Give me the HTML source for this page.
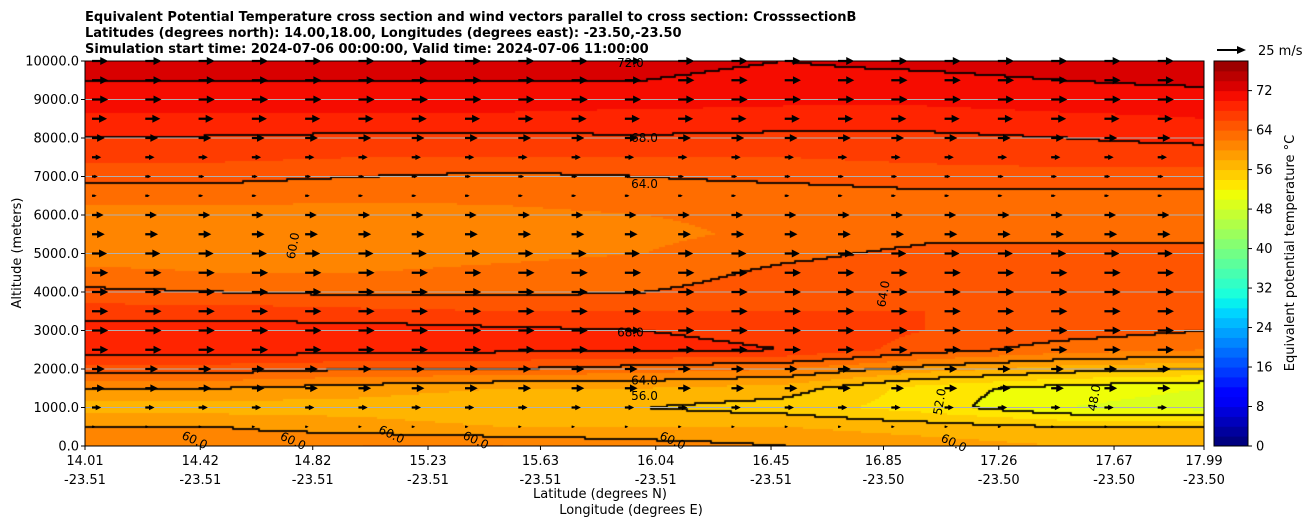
<!DOCTYPE html>
<html><head><meta charset="utf-8">
<style>
body{margin:0;background:#fff;width:1308px;height:526px;overflow:hidden;font-family:"DejaVu Sans","Liberation Sans",sans-serif;}
#wrap{position:relative;width:1308px;height:526px;}
canvas{position:absolute;left:85px;top:61px;}
svg{position:absolute;left:0;top:0;}
.t{font-size:13px;font-weight:bold;}
.tk{font-size:13px;}
.cl{font-size:12px;}
</style></head>
<body>
<div id="wrap">
<canvas id="field" width="1119" height="385"></canvas>
<svg id="svg" width="1308" height="526"></svg>
</div>
<script>
// ---- data ----
const lats = [14.0,14.5,15.0,15.5,16.0,16.5,17.0,17.5,18.0];
const alts = [0,500,1000,1500,2000,2500,3000,3500,4000,4500,5000,5500,6000,6500,7000,7500,8000,8500,9000,9500,10000];
const thetaE = [
 [61,61,62,62,61,60,59,58,58],
 [60,60,59,58,58,58,57,56,56],
 [57,57,57,56,56,55,53,50,49],
 [60,60,59,58,58,57,53,51,50],
 [65,65,64,64,63,62,59,57,56],
 [69,69,69,68.5,68.5,68,65,63,62],
 [69,69,69,68.5,68,67.5,66,65,64],
 [67,67,66.5,66,66,66,66,66,65],
 [64.5,64,63.5,63.5,64,65,65.5,65.5,65],
 [62.5,62,62,62.5,63,64.5,65,65,65],
 [61,61,61,61.5,62,63.5,64.5,64.5,64.5],
 [60.5,60.5,60.5,61,61.5,62.5,63.5,63.5,63.5],
 [61,61,61,61.5,62,62.5,63,63,63],
 [63,63,62.5,62.5,63,63,63.5,63.5,63.5],
 [64.5,64.5,64,63.5,64,64.5,65,65,65],
 [66.5,66.5,66,66,66,66,66.5,67,67],
 [68,67.8,67.5,67.5,67.8,67.5,67.5,68,68.5],
 [69.5,69.5,69.5,69.5,69,69,69,69.5,70],
 [71,71,71,71,71,70.5,70.5,71,71],
 [72,72,72,72,72,71.5,71.5,72,72.5],
 [73,73,73,73,72.5,72,72.5,73,73.5]
];
const windU = [2,3,8,11,11,14,14,14,14,14,13,11,10,4,5,8,11,13,14,14,14];
const xTickLats = ["14.01","14.42","14.82","15.23","15.63","16.04","16.45","16.85","17.26","17.67","17.99"];
const xTickLons = ["-23.51","-23.51","-23.51","-23.51","-23.51","-23.51","-23.51","-23.50","-23.50","-23.50","-23.50"];
const yTicks = [0,1000,2000,3000,4000,5000,6000,7000,8000,9000,10000];
const cbTicks = [0,8,16,24,32,40,48,56,64,72];
const contourLevels = [48,52,56,60,64,68,72];
const contourLabels = [["60.0",14.4,150],["60.0",14.75,130],["60.0",15.1,300],["60.0",15.4,150],["60.0",16.1,140],["60.0",17.1,80],["56.0",16.0,1300],["64.0",16.0,1700],["68.0",15.95,2950],["64.0",16.0,6800],["68.0",16.0,8000],["72.0",15.95,9950],["52.0",17.05,1150],["48.0",17.6,1250],["60.0",14.75,5200],["64.0",16.85,3950]];

// ---- axes ----
const X0=85,X1=1204,Y0=446,Y1=61;
const latMin=14.01,latMax=17.99;
const xs=l=>X0+(l-latMin)/(latMax-latMin)*(X1-X0);
const ys=a=>Y0-a/10000*(Y0-Y1);
const cbMax=78, cbX=1214, cbW=34;
const cbY=v=>Y0-v/cbMax*(Y0-Y1);
function seg(t,pts){for(let i=0;i<pts.length-1;i++){const [a,va]=pts[i],[b,vb]=pts[i+1];if(t<=b)return va+(vb-va)*(t-a)/(b-a);}return pts[pts.length-1][1];}
function jet(t){
 const r=seg(t,[[0,0],[0.35,0],[0.66,1],[0.89,1],[1,0.5]]);
 const g=seg(t,[[0,0],[0.125,0],[0.375,1],[0.64,1],[0.91,0],[1,0]]);
 const b=seg(t,[[0,0.5],[0.11,1],[0.34,1],[0.65,0],[1,0]]);
 return [r,g,b].map(v=>Math.round(v*255));}
function binColor(v){const b=Math.max(0,Math.min(38,Math.floor(v/2)));return jet(b/39);}
function field(lat,alt){
  let fi=(lat-lats[0])/(lats[lats.length-1]-lats[0])*(lats.length-1);
  let fj=alt/(alts[alts.length-1])*(alts.length-1);
  fi=Math.max(0,Math.min(lats.length-1.0001,fi));fj=Math.max(0,Math.min(alts.length-1.0001,fj));
  const i=Math.floor(fi),j=Math.floor(fj),di=fi-i,dj=fj-j;
  const a=thetaE[j][i],b=thetaE[j][i+1],c=thetaE[j+1][i],d=thetaE[j+1][i+1];
  return a*(1-di)*(1-dj)+b*di*(1-dj)+c*(1-di)*dj+d*di*dj;
}
const cv=document.getElementById('field'),ctx=cv.getContext('2d');
const W=1119,H=385,S=2;
const nx=Math.ceil(W/S),ny=Math.ceil(H/S);
const grid=[];
for(let j=0;j<ny;j++){grid.push([]);for(let i=0;i<nx;i++){
  const px=X0+i*S+S/2,py=Y1+j*S+S/2;
  const lat=latMin+(px-X0)/(X1-X0)*(latMax-latMin);
  const alt=(Y0-py)/(Y0-Y1)*10000;
  const v=field(lat,alt);grid[j].push(v);
  const c=binColor(v);ctx.fillStyle=`rgb(${c[0]},${c[1]},${c[2]})`;ctx.fillRect(i*S,j*S,S,S);
}}
ctx.fillStyle='#000';
const lvl=v=>{let k=0;for(const L of contourLevels){if(v>=L)k++;}return k;};
for(let j=0;j<ny;j++)for(let i=0;i<nx;i++){
  const k=lvl(grid[j][i]);
  if(i+1<nx&&lvl(grid[j][i+1])!==k)ctx.fillRect(i*S+S-0.8,j*S-0.5,1.6,S+1);
  if(j+1<ny&&lvl(grid[j+1][i])!==k)ctx.fillRect(i*S-0.5,j*S+S-0.8,S+1,1.6);
}
const svg=document.getElementById('svg');const NS='http://www.w3.org/2000/svg';
function mk(tag,attrs,name,txt){const e=document.createElementNS(NS,tag);for(const k in attrs)e.setAttribute(k,attrs[k]);
 
 
 if(txt!==undefined)e.textContent=txt;svg.appendChild(e);return e;}
yTicks.forEach(a=>{if(a>0&&a<10000)mk('line',{x1:X0,x2:X1,y1:ys(a),y2:ys(a),stroke:'#b0b0b0','stroke-width':1},'y-gridline');});
const ncol=21;
for(let r=0;r<alts.length;r++){
  if(r===0)continue;
  const y=ys(alts[r]);const len=windU[r]/25*29;
  for(let c=0;c<ncol;c++){
    const x=X0+7+c*(X1-X0)/ncol;
    if(len<3){mk('circle',{cx:x,cy:y,r:1.2,fill:'#000'},'wind-vector');continue;}
    const hl=Math.min(8,len*0.6),sh=len-hl,hw=Math.min(4,len*0.3);
    mk('path',{d:`M${x},${y-1.1}L${x+sh},${y-1.1}L${x+sh},${y-hw}L${x+len},${y}L${x+sh},${y+hw}L${x+sh},${y+1.1}L${x},${y+1.1}Z`,fill:'#000'},'wind-vector');
  }
}
contourLabels.forEach(([t,l,a])=>{const x=xs(l),y=ys(a);
  const r=(t==="52.0"||t==="48.0"||(t==="60.0"&&a>1000)||(t==="64.0"&&a<5000&&l>16.5))?-80:(a<400?25:0);
  mk('text',{x:x,y:y+4,'text-anchor':'middle',class:'cl',transform:`rotate(${r} ${x} ${y})`},'contour-label',t);});
mk('rect',{x:X0,y:Y1,width:X1-X0,height:Y0-Y1,fill:'none',stroke:'#000','stroke-width':1},'plot-frame');
yTicks.forEach(a=>{const y=ys(a);mk('line',{x1:X0-4,x2:X0,y1:y,y2:y,stroke:'#000'},'y-tick');
 mk('text',{x:X0-6,y:y+4.5,'text-anchor':'end',class:'tk'},'y-tick-label',a.toFixed(1));});
mk('text',{x:21,y:253,'text-anchor':'middle',class:'tk',transform:'rotate(-90 21 253)'},'y-axis-title','Altitude (meters)');
xTickLats.forEach((l,i)=>{const x=xs(parseFloat(l));mk('line',{x1:x,x2:x,y1:Y0,y2:Y0+4,stroke:'#000'},'x-tick');
 mk('text',{x:x,y:465,'text-anchor':'middle',class:'tk'},'x-tick-label-lat',l);
 mk('text',{x:x,y:484,'text-anchor':'middle',class:'tk'},'x-tick-label-lon',xTickLons[i]);});
mk('text',{x:600,y:498,'text-anchor':'middle',class:'tk'},'x-axis-title-lat','Latitude (degrees N)');
mk('text',{x:631,y:514,'text-anchor':'middle',class:'tk'},'x-axis-title-lon','Longitude (degrees E)');
mk('text',{x:85,y:21,class:'t'},'title-line-1','Equivalent Potential Temperature cross section and wind vectors parallel to cross section: CrosssectionB');
mk('text',{x:85,y:37,class:'t'},'title-line-2','Latitudes (degrees north): 14.00,18.00, Longitudes (degrees east): -23.50,-23.50');
mk('text',{x:85,y:53,class:'t'},'title-line-3','Simulation start time: 2024-07-06 00:00:00, Valid time: 2024-07-06 11:00:00');
for(let b=0;b<39;b++){const c=jet(b/39);const y1=cbY((b+1)*2),y0=cbY(b*2);
 mk('rect',{x:cbX,y:y1,width:cbW,height:y0-y1+0.5,fill:`rgb(${c[0]},${c[1]},${c[2]})`},'colorbar-band');}
mk('rect',{x:cbX,y:Y1,width:cbW,height:Y0-Y1,fill:'none',stroke:'#000'},'colorbar-frame');
cbTicks.forEach(v=>{const y=cbY(v);mk('line',{x1:cbX+cbW,x2:cbX+cbW+4,y1:y,y2:y,stroke:'#000'},'colorbar-tick');
 mk('text',{x:cbX+cbW+8,y:y+4.5,class:'tk'},'colorbar-tick-label',String(v));});
mk('text',{x:1294,y:253,'text-anchor':'middle',class:'tk',transform:'rotate(-90 1294 253)'},'colorbar-title','Equivalent potential temperature °C');
mk('path',{d:'M1217,49L1237,49L1237,46L1246,50L1237,54L1237,51L1217,51Z',fill:'#000'},'quiver-key-arrow');
mk('text',{x:1258,y:55,class:'tk'},'quiver-key-label','25 m/s');
</script>
</body></html>
